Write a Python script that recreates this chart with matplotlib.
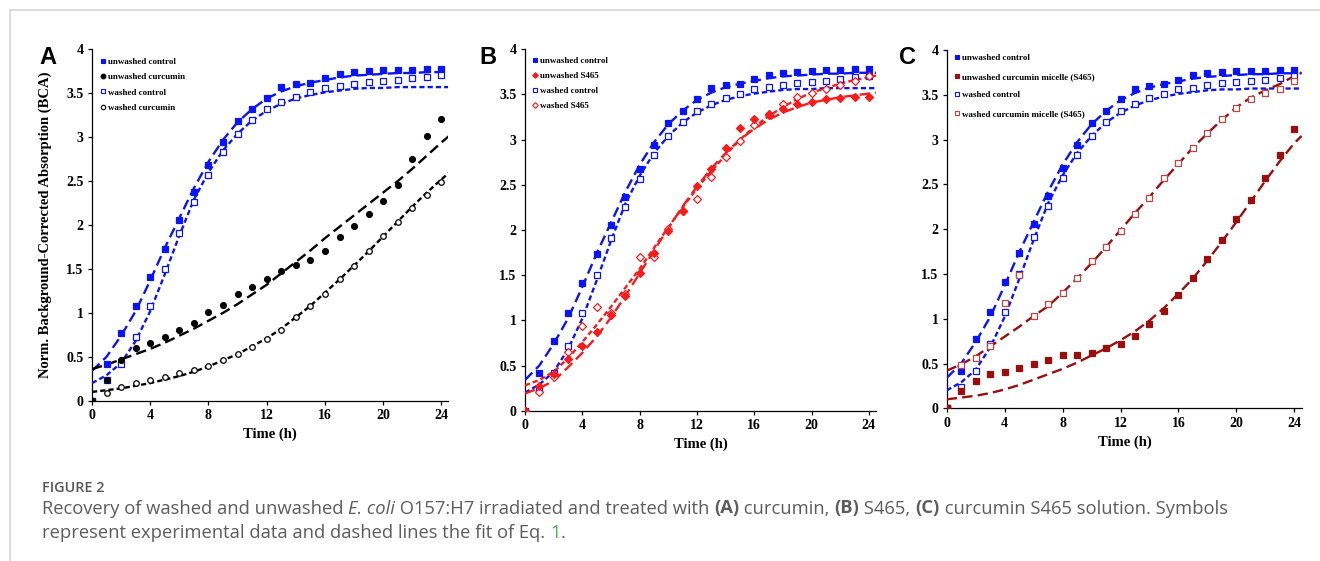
import matplotlib
matplotlib.use('Agg')
import matplotlib.pyplot as plt
from matplotlib.lines import Line2D

# time points (h) and fitted-curve grid
hours = list(range(25))
fit_hours = list(range(25)) + [24.5]

# controls (same in all three panels)
unwashed_control = [0, 0.42, 0.77, 1.08, 1.41, 1.73, 2.06, 2.37, 2.68, 2.94, 3.18, 3.32, 3.45,
                    3.57, 3.60, 3.62, 3.67, 3.72, 3.74, 3.75, 3.76, 3.77, 3.77, 3.78, 3.78]
washed_control = [0, 0.24, 0.42, 0.72, 1.08, 1.50, 1.91, 2.26, 2.57, 2.83, 3.04, 3.20, 3.32,
                  3.40, 3.46, 3.51, 3.56, 3.58, 3.61, 3.63, 3.64, 3.65, 3.67, 3.69, 3.71]
unwashed_control_fit = [0.34, 0.50, 0.74, 1.02, 1.37, 1.74, 2.08, 2.42, 2.72, 2.97, 3.17, 3.32, 3.44,
                        3.52, 3.58, 3.62, 3.65, 3.68, 3.70, 3.71, 3.72, 3.73, 3.73, 3.74, 3.74, 3.74]
washed_control_fit = [0.20, 0.29, 0.43, 0.68, 1.02, 1.44, 1.88, 2.29, 2.60, 2.85, 3.04, 3.19, 3.30,
                      3.38, 3.44, 3.48, 3.51, 3.53, 3.55, 3.56, 3.56, 3.57, 3.57, 3.57, 3.57, 3.57]

# panel A: curcumin
unwashed_curcumin = [0, 0.23, 0.46, 0.60, 0.66, 0.73, 0.80, 0.89, 1.01, 1.09, 1.21, 1.29, 1.38,
                     1.48, 1.54, 1.60, 1.70, 1.86, 1.99, 2.12, 2.27, 2.46, 2.75, 3.01, 3.21]
washed_curcumin = [0, 0.09, 0.16, 0.20, 0.23, 0.27, 0.31, 0.35, 0.39, 0.46, 0.53, 0.61, 0.70,
                   0.81, 0.95, 1.08, 1.22, 1.38, 1.53, 1.70, 1.87, 2.03, 2.19, 2.34, 2.49]
unwashed_curcumin_fit = [0.36, 0.41, 0.47, 0.53, 0.59, 0.66, 0.74, 0.82, 0.91, 1.00, 1.10, 1.21, 1.32,
                         1.45, 1.58, 1.71, 1.85, 1.98, 2.11, 2.24, 2.37, 2.50, 2.64, 2.79, 2.94, 3.01]
washed_curcumin_fit = [0.10, 0.12, 0.14, 0.17, 0.20, 0.24, 0.28, 0.33, 0.39, 0.46, 0.53, 0.62, 0.71,
                       0.82, 0.95, 1.08, 1.23, 1.38, 1.54, 1.70, 1.87, 2.04, 2.21, 2.37, 2.52, 2.59]

# panel B: S465
unwashed_s465 = [0, 0.27, 0.41, 0.57, 0.72, 0.87, 1.06, 1.27, 1.52, 1.74, 1.99, 2.21, 2.49,
                 2.68, 2.91, 3.13, 3.23, 3.28, 3.34, 3.40, 3.42, 3.45, 3.46, 3.47, 3.47]
washed_s465 = [0, 0.21, 0.37, 0.65, 0.94, 1.15, 1.08, 1.29, 1.70, 1.70, 2.01, 2.21, 2.34,
               2.59, 2.81, 2.98, 3.16, 3.27, 3.39, 3.47, 3.52, 3.56, 3.61, 3.65, 3.70]
unwashed_s465_fit = [0.19, 0.25, 0.33, 0.48, 0.64, 0.82, 1.03, 1.27, 1.52, 1.77, 2.02, 2.26, 2.48,
                     2.68, 2.85, 3.00, 3.12, 3.22, 3.30, 3.36, 3.41, 3.44, 3.47, 3.49, 3.51, 3.52]
washed_s465_fit = [0.28, 0.34, 0.43, 0.58, 0.76, 0.95, 1.15, 1.36, 1.57, 1.80, 2.03, 2.25, 2.46,
                   2.65, 2.83, 3.00, 3.14, 3.26, 3.36, 3.45, 3.52, 3.57, 3.62, 3.66, 3.69, 3.71]

# panel C: curcumin micelle (S465)
unwashed_micelle = [0, 0.19, 0.31, 0.38, 0.41, 0.45, 0.50, 0.54, 0.59, 0.60, 0.62, 0.67, 0.72,
                    0.81, 0.94, 1.09, 1.26, 1.46, 1.67, 1.88, 2.11, 2.33, 2.57, 2.83, 3.12]
washed_micelle = [0, 0.48, 0.56, 0.70, 1.18, 1.49, 1.03, 1.16, 1.29, 1.45, 1.64, 1.80, 1.98,
                  2.17, 2.35, 2.57, 2.74, 2.91, 3.07, 3.23, 3.35, 3.45, 3.52, 3.57, 3.65]
unwashed_micelle_fit = [0.10, 0.12, 0.14, 0.17, 0.21, 0.26, 0.32, 0.38, 0.44, 0.51, 0.59, 0.67, 0.76,
                        0.86, 0.98, 1.12, 1.28, 1.45, 1.65, 1.86, 2.08, 2.31, 2.54, 2.76, 2.96, 3.04]
washed_micelle_fit = [0.42, 0.49, 0.58, 0.69, 0.80, 0.91, 1.03, 1.14, 1.29, 1.45, 1.62, 1.80, 1.99,
                      2.18, 2.36, 2.55, 2.73, 2.91, 3.07, 3.22, 3.36, 3.47, 3.55, 3.62, 3.71, 3.75]

x_ticks = [0, 4, 8, 12, 16, 20, 24]
y_ticks = [0, 0.5, 1, 1.5, 2, 2.5, 3, 3.5, 4]
y_ticklabels = ['0', '0.5', '1', '1.5', '2', '2.5', '3', '3.5', '4']

BLUE = '#0a14f5'
RED = '#f41c1c'
DARK_RED = '#9c0d0d'
LONG = (0, (4.4, 2.2))
SHORT = (0, (2.2, 1.3))

plt.rcParams['font.family'] = ['Liberation Serif', 'DejaVu Serif']

fig = plt.figure(figsize=(13.2, 5.61), dpi=100)
W, H = 1320.0, 561.0


def px_axes(left, right, top, bottom):
    return fig.add_axes([left / W, 1 - bottom / H, (right - left) / W, (bottom - top) / H])


def style_axes(ax, xmax):
    ax.set_xlim(0, xmax)
    ax.set_ylim(0, 4)
    ax.set_xticks(x_ticks)
    ax.set_yticks(y_ticks)
    ax.set_yticklabels(y_ticklabels)
    for s in ['top', 'right']:
        ax.spines[s].set_visible(False)
    for s in ['left', 'bottom']:
        ax.spines[s].set_linewidth(0.9)
    ax.tick_params(direction='out', length=3, width=0.9, labelsize=10, pad=3)
    for lab in ax.get_xticklabels() + ax.get_yticklabels():
        lab.set_fontweight('bold')
    ax.set_xlabel('Time (h)', fontsize=10.5, fontweight='bold', labelpad=4)


def series(ax, y, marker, color, filled, ms=4.2, label=None):
    ax.plot(hours, y, ls='none', marker=marker, ms=ms, color=color,
            mfc=color if filled else 'white', mec=color, mew=0.9, zorder=4)
    return Line2D([], [], ls='none', marker=marker, ms=ms * 0.8, color=color,
                  mfc=color if filled else 'white', mec=color, mew=0.8, label=label)


def fit(ax, y, color, ls):
    ax.plot(fit_hours, y, ls=ls, lw=1.7, color=color, zorder=3)


def legend(ax, handles, spacing, top):
    ax.legend(handles=handles, loc='upper left', bbox_to_anchor=(0.022, top), frameon=False,
              prop={'weight': 'bold', 'size': 6.5}, handlelength=0.6, handletextpad=0.25,
              labelspacing=spacing, borderpad=0, borderaxespad=0)


# ---- panel A
axA = px_axes(92, 448, 49.3, 400.7)
style_axes(axA, 24.45)
fit(axA, unwashed_control_fit, BLUE, LONG)
fit(axA, washed_control_fit, BLUE, SHORT)
fit(axA, unwashed_curcumin_fit, 'black', LONG)
fit(axA, washed_curcumin_fit, 'black', SHORT)
hA = [series(axA, unwashed_control, 's', BLUE, True, label='unwashed control'),
      series(axA, washed_control, 's', BLUE, False, label='washed control'),
      series(axA, washed_curcumin, 'o', 'black', False, ms=4, label='washed curcumin'),
      series(axA, unwashed_curcumin, 'o', 'black', True, ms=4.2, label='unwashed curcumin')]
legend(axA, [hA[0], hA[3], hA[1], hA[2]], 0.79, 0.977)
axA.set_ylabel('Norm. Background-Corrected Absorption (BCA)', fontsize=10.5,
               fontweight='bold', labelpad=10)

# ---- panel B
axB = px_axes(525, 876, 49.3, 410.7)
style_axes(axB, 24.5)
fit(axB, unwashed_control_fit, BLUE, LONG)
fit(axB, washed_control_fit, BLUE, SHORT)
fit(axB, unwashed_s465_fit, RED, LONG)
fit(axB, washed_s465_fit, RED, SHORT)
hB = [series(axB, unwashed_control, 's', BLUE, True, label='unwashed control'),
      series(axB, washed_control, 's', BLUE, False, label='washed control'),
      series(axB, washed_s465, 'D', RED, False, ms=3.6, label='washed S465'),
      series(axB, unwashed_s465, 'D', RED, True, ms=3.6, label='unwashed S465')]
legend(axB, [hB[0], hB[3], hB[1], hB[2]], 0.73, 0.979)

# ---- panel C
axC = px_axes(946.7, 1302.3, 50, 408.3)
style_axes(axC, 24.55)
fit(axC, unwashed_control_fit, BLUE, LONG)
fit(axC, washed_control_fit, BLUE, SHORT)
fit(axC, unwashed_micelle_fit, DARK_RED, LONG)
fit(axC, washed_micelle_fit, DARK_RED, LONG)
hC = [series(axC, unwashed_control, 's', BLUE, True, label='unwashed control'),
      series(axC, washed_control, 's', BLUE, False, label='washed control'),
      series(axC, washed_micelle, 's', '#b84444', False, label='washed curcumin micelle (S465)'),
      series(axC, unwashed_micelle, 's', DARK_RED, True, label='unwashed curcumin micelle (S465)')]
legend(axC, [hC[0], hC[3], hC[1], hC[2]], 1.13, 0.989)

# panel letters
for letter, x, y in [('A', 48, 57), ('B', 488, 57), ('C', 908, 57)]:
    fig.text(x / W, 1 - y / H, letter, fontsize=17, fontweight='bold',
             family='Liberation Sans', ha='center', va='center')

# page frame
fig.add_artist(Line2D([10 / W, 1], [1 - 10 / H, 1 - 10 / H], color='#d6d6d6', lw=1.2))
fig.add_artist(Line2D([10 / W, 10 / W], [0, 1 - 10 / H], color='#d6d6d6', lw=1.2))

# caption
renderer = fig.canvas.get_renderer()
GREY = '#5c5c5c'


def text_width(s, **kw):
    a = fig.text(0, 0, '|' + s + '|', **kw)
    b = fig.text(0, 0, '||', **kw)
    w = a.get_window_extent(renderer).width - b.get_window_extent(renderer).width
    a.remove()
    b.remove()
    return w


def caption_line(x, y, runs):
    for s, style in runs:
        kw = dict(family='Open Sans', fontsize=13.2, color=GREY)
        if style == 'i':
            kw['style'] = 'italic'
        elif style == 'b':
            kw['weight'] = 'bold'
        elif style == 'g':
            kw['color'] = '#3fb54a'
        fig.text(x / W, 1 - y / H, s, va='baseline', ha='left', **kw)
        x += text_width(s, **kw)


fig.text(42 / W, 1 - 491.7 / H, 'FIGURE 2', family='Open Sans', fontsize=10.4,
         weight='semibold', color='#555555', va='baseline')
caption_line(42, 513.5, [('Recovery of washed and unwashed ', ''), ('E. coli', 'i'),
                         (' O157:H7 irradiated and treated with ', ''), ('(A)', 'b'),
                         (' curcumin, ', ''), ('(B)', 'b'), (' S465, ', ''), ('(C)', 'b'),
                         (' curcumin S465 solution. Symbols', '')])
caption_line(42, 537.5, [('represent experimental data and dashed lines the fit of Eq. ', ''),
                         ('1', 'g'), ('.', '')])

fig.savefig('out.png', dpi=100)
